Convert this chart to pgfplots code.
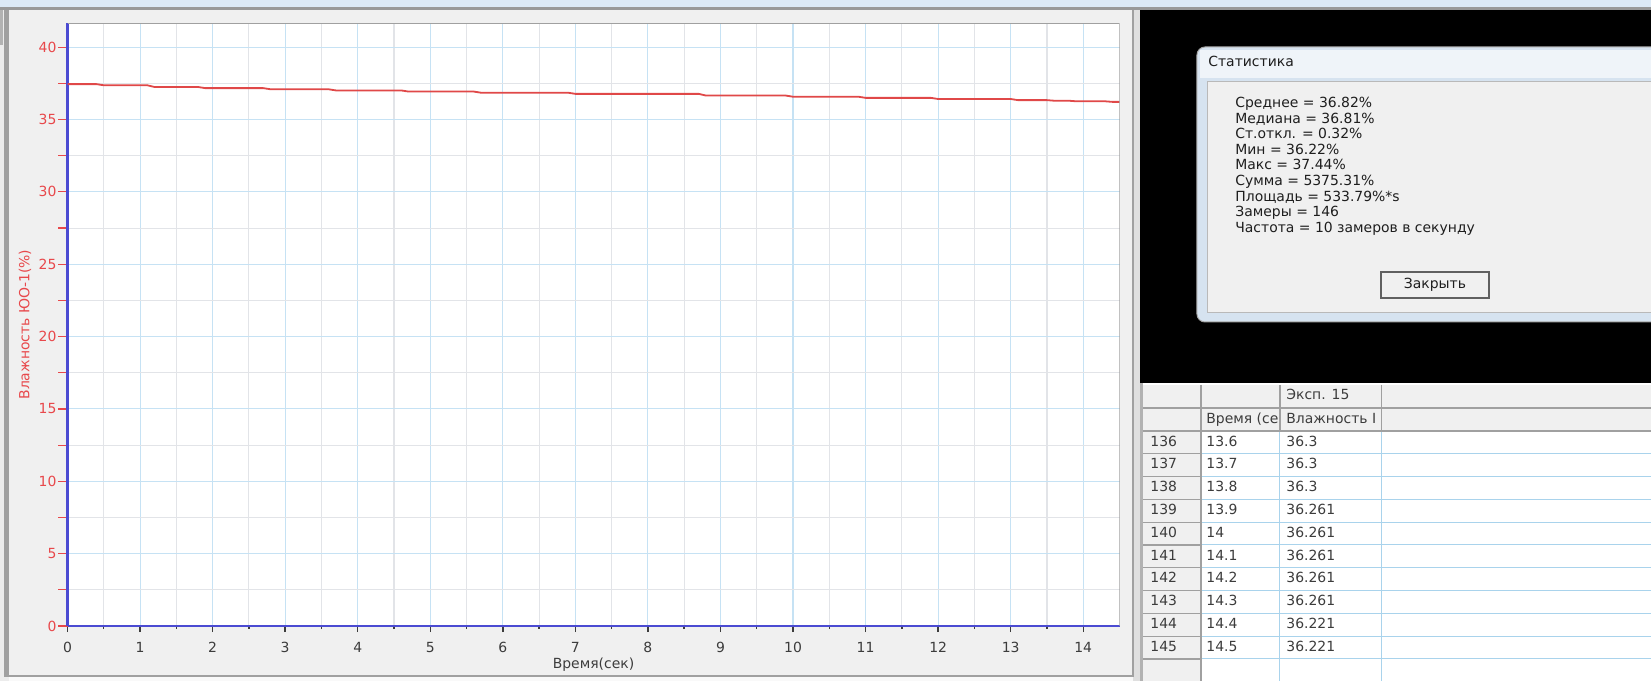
\documentclass[border=0pt]{standalone}
\usepackage{fontspec}
\setmainfont{DejaVu Sans}
\usepackage{pgfplots}
\pgfplotsset{compat=1.18}
\definecolor{axisblue}{HTML}{4B4BD2}
\definecolor{tickred}{HTML}{E8484B}
\definecolor{linered}{HTML}{E04848}
\definecolor{gridblue}{HTML}{C6E2F4}
\definecolor{gridgray}{HTML}{E2E4E8}
\definecolor{labeldark}{HTML}{3C3C3C}
\definecolor{panelgray}{HTML}{F0F0F0}
\definecolor{framegray}{HTML}{A0A0A0}
\definecolor{topblue}{HTML}{DCE9F6}
\definecolor{dlgframe}{HTML}{D6E3F0}
\definecolor{tblue}{HTML}{A9D3EC}
\definecolor{txt}{HTML}{1E1E1E}

\pgfplotstableread{
t v
0 37.446
0.4 37.446
0.5 37.367
1.1 37.367
1.2 37.248
1.8 37.248
1.9 37.169
2.7 37.169
2.8 37.090
3.6 37.090
3.7 37.011
4.6 37.011
4.7 36.932
5.6 36.932
5.7 36.853
6.9 36.853
7.0 36.774
8.7 36.774
8.8 36.656
9.9 36.656
10.0 36.577
10.9 36.577
11.0 36.498
11.9 36.498
12.0 36.419
13.0 36.419
13.1 36.340
13.5 36.340
13.6 36.300
13.8 36.300
13.9 36.261
14.3 36.261
14.4 36.221
14.5 36.221
}\humdata

\begin{document}
\begin{tikzpicture}
% ---------- window background ----------
\begin{scope}[x=0.5bp,y=-0.5bp]
  \fill[topblue] (0,0) rectangle (1651,7);
  \fill[gray!80] (0,7) rectangle (1651,10);
  \fill[panelgray] (0,10) rectangle (1140,681);
  \fill[gray!15] (0,10) rectangle (9,681);
  \fill[framegray] (4,10) rectangle (9,677);
  \fill[gray!140!black] (0,10) rectangle (3,45);
  \fill[framegray] (9,675) rectangle (1133,677);
  \fill[gray!5] (9,677) rectangle (1140,681);
  \fill[gray!25] (1133,10) rectangle (1140,681);
  \draw[framegray, line width=0.6bp] (1133,10) -- (1133,677);
\end{scope}

\begin{axis}[
  at={(33.75bp,-313bp)}, anchor=south west,
  scale only axis, width=526bp, height=301.35bp,
  xmin=0, xmax=14.5, ymin=0, ymax=41.65,
  axis lines=left,
  axis line style={-, draw=axisblue, line width=1.1bp},
  xtick={0,1,...,14}, minor x tick num=1,
  ytick={0,5,...,40}, minor y tick num=1,
  tick align=outside,
  major tick length=4.5bp, minor tick length=4.5bp,
  grid=both,
  major grid style={draw=gridblue, line width=0.55bp},
  minor grid style={draw=gridgray, line width=0.55bp},
  y tick style={draw=tickred, line width=0.6bp},
  x tick style={draw=labeldark, line width=0.7bp, /pgfplots/major tick length=3bp, /pgfplots/minor tick length=1.5bp},
  /pgf/number format/assume math mode=true,
  yticklabel style={text=tickred, font=\fontsize{7}{8}\selectfont, xshift=2.5bp},
  xticklabel style={text=labeldark, font=\fontsize{7}{8}\selectfont},
  xlabel={Время(сек)}, ylabel={Влажность ЮО-1(\%)},
  xlabel style={at={(axis description cs:0.5,-0.0647)}, anchor=center, text=labeldark, font=\fontsize{7}{8}\selectfont},
  ylabel style={at={(axis description cs:-0.0404,0.5)}, anchor=center, text=tickred, font=\fontsize{7}{8}\selectfont},
  axis background/.style={fill=white},
]
\addplot[linered, line width=0.9bp, no markers] table[x=t, y=v] {\humdata};
\draw[framegray, line width=0.6bp] (rel axis cs:0,1) -- (rel axis cs:1,1) -- (rel axis cs:1,0);
\end{axis}

% ---------- right side: statistics dialog and table ----------
\begin{scope}[x=0.5bp,y=-0.5bp,
  tt/.style={font=\fontsize{7}{8}\selectfont, inner sep=0pt, text height=5.2bp, text depth=1.4bp, anchor=west, text=txt}]
  \fill[black] (1140,10) rectangle (1651,383);
  % dialog
  \path[fill=dlgframe, draw=gray!70, line width=0.5bp, rounded corners=4bp]
    (1651,47) -- (1197,47) -- (1197,322) -- (1651,322);
  \fill[white!60!dlgframe] (1200,50) rectangle (1651,78);
  \path[fill=panelgray, draw=gray!55, line width=0.5bp] (1651,82) -- (1208,82) -- (1208,313) -- (1651,313);
  \node[tt] at (1208,63) {Статистика};
  \node[tt] at (1235,104)   {Среднее = 36.82\%};
  \node[tt] at (1235,119.5) {Медиана = 36.81\%};
  \node[tt] at (1235,135)   {Ст.откл. = 0.32\%};
  \node[tt] at (1235,150.5) {Мин = 36.22\%};
  \node[tt] at (1235,166)   {Макс = 37.44\%};
  \node[tt] at (1235,182)   {Сумма = 5375.31\%};
  \node[tt] at (1235,197.5) {Площадь = 533.79\%*s};
  \node[tt] at (1235,213)   {Замеры = 146};
  \node[tt] at (1235,228.5) {Частота = 10 замеров в секунду};
  \draw[fill=gray!12, draw=gray!75!black, line width=0.6bp] (1381,272) rectangle (1489,298);
  \node[tt, anchor=center] at (1435,285) {Закрыть};
  % table
  \fill[white] (1140,383) rectangle (1651,681);
  \fill[panelgray] (1143,385) rectangle (1651,431);
  \fill[panelgray] (1143,431) rectangle (1201,681);
  \foreach \k in {1,...,10} {
    \draw[tblue, line width=0.5bp] (1201,{431+22.8*\k}) -- (1651,{431+22.8*\k});
    \draw[framegray, line width=0.6bp] (1143,{431+22.8*\k}) -- (1201,{431+22.8*\k});
  }
  \draw[tblue, line width=0.5bp] (1280,431) -- (1280,681);
  \draw[tblue, line width=0.5bp] (1381.5,431) -- (1381.5,681);
  \draw[framegray, line width=0.6bp] (1280,385) -- (1280,431);
  \draw[framegray, line width=0.6bp] (1381.5,385) -- (1381.5,431);
  \draw[framegray, line width=0.8bp] (1201,385) -- (1201,681);
  \draw[framegray, line width=0.6bp] (1143,408) -- (1651,408);
  \draw[framegray, line width=0.9bp] (1143,431) -- (1651,431);
  \fill[gray!140!black] (1140,383) rectangle (1143,681);
  \node[tt, text=labeldark] at (1286,396) {Эксп. 15};
  \node[tt, text=labeldark] at (1206,420) {Время (се};
  \node[tt, text=labeldark] at (1286,420) {Влажность I};
  \foreach \i/\t/\v [count=\k from 0] in {136/13.6/36.3, 137/13.7/36.3, 138/13.8/36.3,
      139/13.9/36.261, 140/14/36.261, 141/14.1/36.261, 142/14.2/36.261,
      143/14.3/36.261, 144/14.4/36.221, 145/14.5/36.221} {
    \node[tt, text=labeldark] at (1150,{442.4+22.8*\k}) {\i};
    \node[tt, text=labeldark] at (1206,{442.4+22.8*\k}) {\t};
    \node[tt, text=labeldark] at (1286,{442.4+22.8*\k}) {\v};
  }
\end{scope}
\pgfresetboundingbox
\path[use as bounding box] (0,0) rectangle (825.5bp,-340.5bp);
\end{tikzpicture}
\end{document}
